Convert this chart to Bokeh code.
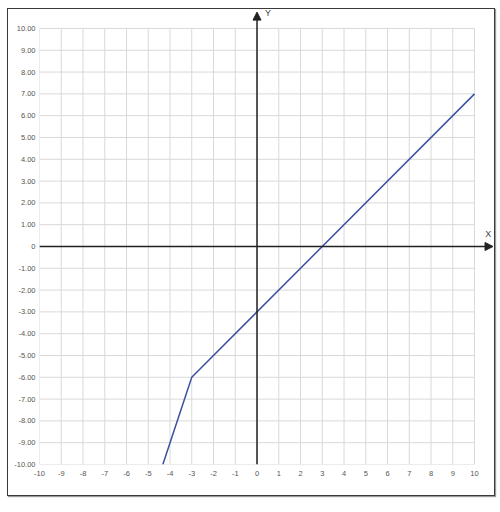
from bokeh.plotting import figure
from bokeh.models import Range1d, FixedTicker, Arrow, NormalHead, Label
from bokeh.embed import file_html
from bokeh.resources import INLINE

# ---- data ----
x_ticks = list(range(-10, 11))
y_ticks = list(range(-10, 11))
x_tick_labels = [str(v) for v in x_ticks]
y_tick_labels = ["0" if v == 0 else f"{v:.2f}" for v in y_ticks]
line_x = [-4.33, -3, 10]
line_y = [-10, -6, 7]
x_axis_end = 10.85
y_axis_end = 10.75

# ---- figure ----
p = figure(width=488, height=488, output_backend="svg", toolbar_location=None,
           x_range=Range1d(-10, 11.01), y_range=Range1d(-10, 10.87),
           min_border_left=31, min_border_bottom=33, min_border_top=0, min_border_right=0)
p.styles = {"border": "1px solid #3a3a3a", "box-shadow": "1px 1px 1px #9a9a9a",
            "margin-left": "7px", "margin-top": "8px"}
p.outline_line_color = None
p.xgrid.visible = False
p.ygrid.visible = False

for ax, ticks, labels in ((p.xaxis[0], x_ticks, x_tick_labels), (p.yaxis[0], y_ticks, y_tick_labels)):
    ax.ticker = FixedTicker(ticks=ticks)
    ax.major_label_overrides = {t: l for t, l in zip(ticks, labels)}
    ax.axis_line_color = None
    ax.major_tick_line_color = None
    ax.minor_tick_line_color = None
    ax.major_tick_out = 0
    ax.major_tick_in = 0
    ax.minor_tick_out = 0
    ax.minor_tick_in = 0
    ax.major_label_text_font = "Liberation Sans"
    ax.major_label_text_font_size = "7.5px"
    ax.major_label_text_color = "#555555"
p.xaxis.major_label_standoff = 6
p.yaxis.major_label_standoff = 4

# grid lines
p.segment(x0=x_ticks, y0=[y_ticks[0]] * len(x_ticks), x1=x_ticks, y1=[y_ticks[-1]] * len(x_ticks),
          line_color="#d9d9d9", line_width=1)
p.segment(x0=[x_ticks[0]] * len(y_ticks), y0=y_ticks, x1=[x_ticks[-1]] * len(y_ticks), y1=y_ticks,
          line_color="#d9d9d9", line_width=1)

# axes with arrows
p.add_layout(Arrow(x_start=x_ticks[0], y_start=0, x_end=x_axis_end, y_end=0,
                   line_color="#222222", line_width=1.5,
                   end=NormalHead(size=8, fill_color="#222222", line_color="#222222", line_width=1)))
p.add_layout(Arrow(x_start=0, y_start=y_ticks[0], x_end=0, y_end=y_axis_end,
                   line_color="#222222", line_width=1.5,
                   end=NormalHead(size=8, fill_color="#222222", line_color="#222222", line_width=1)))

p.add_layout(Label(x=0.5, y=10.7, text="Y", text_font="Liberation Sans", text_font_size="9px",
                   text_color="#444444", text_align="center", text_baseline="middle"))
p.add_layout(Label(x=10.63, y=0.56, text="X", text_font="Liberation Sans", text_font_size="9px",
                   text_color="#444444", text_align="center", text_baseline="middle"))

# function line
p.line(line_x, line_y, line_color="#3b52a0", line_width=1.5)

open("out.html", "w").write(file_html(p, INLINE))
